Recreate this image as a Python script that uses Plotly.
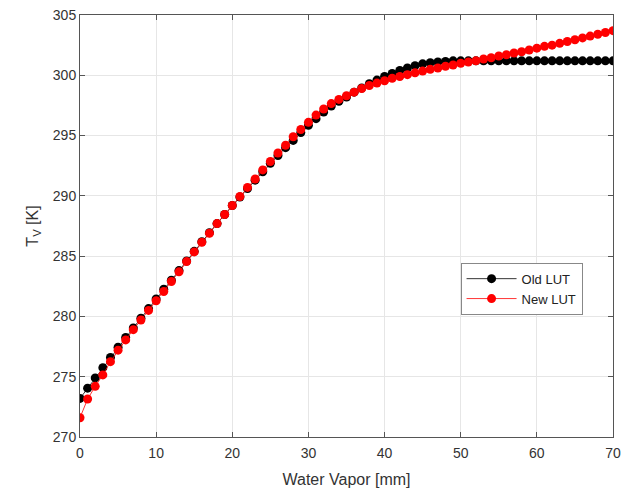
import plotly.graph_objects as go

# water vapor [mm]
water_vapor = list(range(0, 71))

old_lut = [
    273.2, 274.05, 274.9, 275.75, 276.6, 277.45, 278.25, 279.05, 279.85, 280.65,
    281.45, 282.25, 283.0, 283.8, 284.6, 285.4, 286.2, 286.95, 287.7, 288.45,
    289.2, 289.9, 290.6, 291.3, 292.0, 292.7, 293.35, 294.0, 294.6, 295.25,
    295.85, 296.4, 296.95, 297.45, 297.85, 298.2, 298.6, 298.95, 299.3, 299.6,
    299.9, 300.15, 300.4, 300.6, 300.8, 300.95, 301.05, 301.1, 301.15, 301.2,
    301.2, 301.2, 301.2, 301.2, 301.2, 301.2, 301.2, 301.2, 301.2, 301.2,
    301.2, 301.2, 301.2, 301.2, 301.2, 301.2, 301.2, 301.2, 301.2, 301.2,
    301.2,
]

new_lut = [
    271.6, 273.15, 274.2, 275.15, 276.25, 277.2, 278.05, 278.9, 279.7, 280.5,
    281.3, 282.07, 282.9, 283.7, 284.55, 285.35, 286.15, 286.9, 287.7, 288.45,
    289.2, 289.95, 290.7, 291.4, 292.15, 292.85, 293.55, 294.2, 294.9, 295.5,
    296.1, 296.7, 297.2, 297.65, 298.0, 298.3, 298.6, 298.9, 299.15, 299.35,
    299.55, 299.75, 299.9, 300.05, 300.2, 300.35, 300.5, 300.6, 300.75, 300.85,
    301.0, 301.1, 301.2, 301.35, 301.45, 301.6, 301.7, 301.85, 301.95, 302.1,
    302.25, 302.4, 302.5, 302.65, 302.8, 302.95, 303.1, 303.25, 303.4, 303.55,
    303.7,
]

x_ticks = [0, 10, 20, 30, 40, 50, 60, 70]
y_ticks = [270, 275, 280, 285, 290, 295, 300, 305]

fig = go.Figure()
fig.add_trace(go.Scatter(
    x=water_vapor, y=old_lut, name="Old LUT", mode="lines+markers",
    line=dict(color="black", width=0.8),
    marker=dict(color="black", size=9),
))
fig.add_trace(go.Scatter(
    x=water_vapor, y=new_lut, name="New LUT", mode="lines+markers",
    line=dict(color="red", width=0.8),
    marker=dict(color="red", size=9),
))

axis_style = dict(
    showline=True, linecolor="#555555", linewidth=1, mirror="ticks",
    ticks="inside", ticklen=5, tickcolor="#555555",
    showgrid=True, gridcolor="#e6e6e6", zeroline=False, automargin=False,
    ticklabeloverflow="allow",
    tickfont=dict(family="Liberation Sans, Arial", size=14, color="#333333"),
)

fig.update_layout(
    width=621, height=488,
    margin=dict(l=80, r=8, t=15, b=51),
    plot_bgcolor="white", paper_bgcolor="white",
    font=dict(family="Liberation Sans, Arial", color="#333333"),
    xaxis=dict(
        range=[0, 70], tickvals=x_ticks, ticklabelstandoff=3,
        title=dict(text="Water Vapor [mm]", font=dict(size=16), standoff=14),
        **axis_style,
    ),
    yaxis=dict(
        range=[270, 305], tickvals=y_ticks,
        title=dict(text="T<sub>V</sub> [K]", font=dict(size=16), standoff=10),
        **axis_style,
    ),
    legend=dict(
        x=0.714, y=0.413, xanchor="left", yanchor="top",
        bgcolor="white", bordercolor="#888888", borderwidth=1,
        font=dict(size=13, color="#222222"),
        itemwidth=50, tracegroupgap=0,
    ),
    showlegend=True,
)

# drop the default page margin so the figure sits at the window corner
fig.write_html(
    "out.html",
    config={"displayModeBar": False},
    post_script="document.body.style.margin='0';document.body.style.overflow='hidden';",
)
